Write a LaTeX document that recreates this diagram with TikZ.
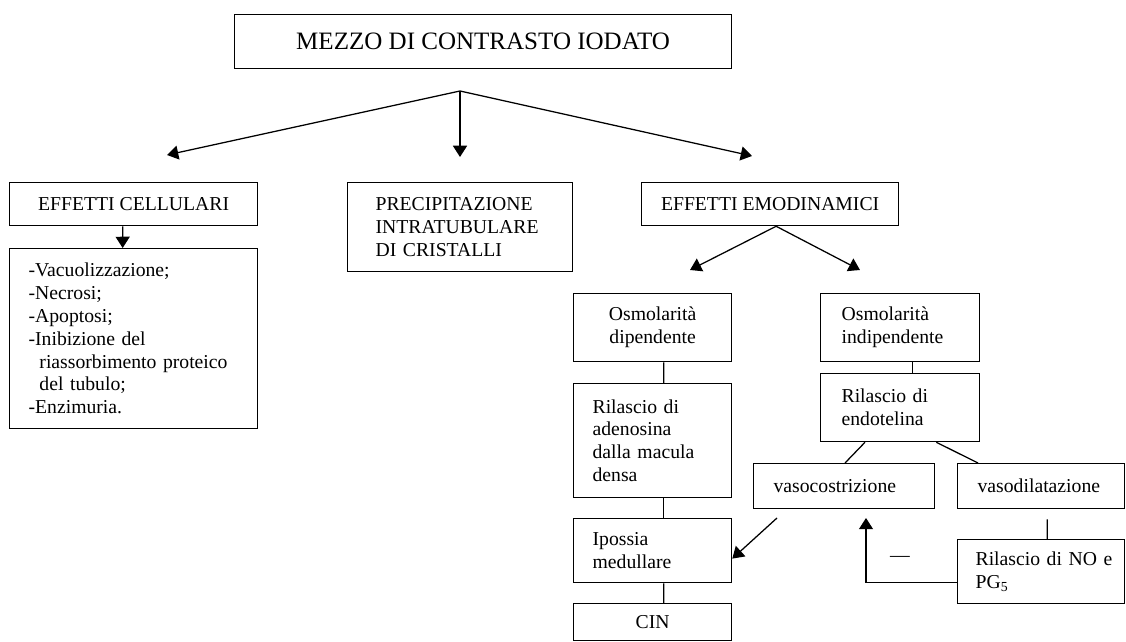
\documentclass[tikz,border=0pt]{standalone}
\usepackage{fontspec}
\setmainfont{Liberation Serif}
\usetikzlibrary{arrows.meta}
\newcommand{\pu}{0.025cm}
\hyphenpenalty=10000

\begin{document}
\begin{tikzpicture}[x=\pu,y=-\pu,line width=0.9pt,
	box/.style={draw,anchor=north west,inner ysep=0pt,font=\fontsize{14}{16.2}\selectfont},
	arr/.style={-{Triangle[length=8pt,width=10pt]}}]
	\useasboundingbox (0,0) rectangle (1126,642);

	% boxes
	\node[box,minimum width=497*\pu,minimum height=54*\pu,font=\fontsize{17.8}{20}\selectfont] (mdc) at (234,14) {MEZZO DI CONTRASTO IODATO};
	\node[box,minimum width=248*\pu,minimum height=43*\pu] (cell) at (9,182) {EFFETTI CELLULARI};
	\node[box,minimum width=248*\pu,minimum height=180*\pu,text width=5.25cm,inner xsep=19*\pu,align=left] (list) at (9,248)
		{-Vacuolizzazione;\\-Necrosi;\\-Apoptosi;\\-Inibizione del\\\hspace*{.55em}riassorbimento proteico\\\hspace*{.55em}del tubulo;\\-Enzimuria.};
	\node[box,minimum width=225*\pu,minimum height=89*\pu,text width=4.225cm,inner xsep=28*\pu,align=left] (prec) at (347,182)
		{PRECIPITAZIONE\\INTRATUBULARE\\DI CRISTALLI};
	\node[box,minimum width=257*\pu,minimum height=43*\pu] (emo) at (641,182) {EFFETTI EMODINAMICI};

	\node[box,minimum width=158*\pu,minimum height=68*\pu,align=center] (dip) at (573,293) {Osmolarità\\dipendente};
	\node[box,minimum width=158*\pu,minimum height=114*\pu,text width=3cm,inner xsep=19*\pu,align=left] (ade) at (573,383)
		{Rilascio di\\adenosina\\dalla macula\\densa};
	\node[box,minimum width=158*\pu,minimum height=64*\pu,text width=3cm,inner xsep=19*\pu,align=left] (ipo) at (573,518) {Ipossia\\medullare};
	\node[box,minimum width=158*\pu,minimum height=37*\pu] (cin) at (573,603) {CIN};

	\node[box,minimum width=159*\pu,minimum height=68*\pu,text width=2.925cm,inner xsep=21*\pu,align=left] (ind) at (820,293) {Osmolarità\\indipendente};
	\node[box,minimum width=159*\pu,minimum height=68*\pu,text width=2.925cm,inner xsep=21*\pu,align=left] (endo) at (820,373) {Rilascio di\\endotelina};
	\node[box,minimum width=181*\pu,minimum height=45*\pu,text width=3.525cm,inner xsep=20*\pu,align=left] (vc) at (753,463) {vasocostrizione};
	\node[box,minimum width=167*\pu,minimum height=45*\pu,text width=3.175cm,inner xsep=20*\pu,align=left] (vd) at (957,463) {vasodilatazione};
	\node[box,minimum width=167*\pu,minimum height=64*\pu,text width=3.275cm,inner xsep=18*\pu,align=left] (no) at (957,539) {\mbox{Rilascio di NO e}\\PG\textsubscript{5}};

	% arrows
	\coordinate (hub) at (460,91);
	\coordinate (tl) at (167,155);
	\coordinate (tc) at (460,157);
	\coordinate (tr) at (752,156);
	\foreach \t in {tl,tc,tr}
		\draw[arr] (hub) -- (\t);
	\draw[arr] ([xshift=-11*\pu]cell.south) -- ([xshift=-11*\pu]list.north);

	\coordinate (eh) at ([xshift=6*\pu]emo.south);
	\coordinate (el) at (690,270);
	\coordinate (er) at (860,270);
	\draw[arr] (eh) -- (el);
	\draw[arr] (eh) -- (er);

	\foreach \a/\b in {dip/ade,ade/ipo,ipo/cin}
		\draw ([xshift=11*\pu]\a.south) -- ([xshift=11*\pu]\b.north);
	\draw ([xshift=12*\pu]ind.south) -- ([xshift=12*\pu]endo.north);
	\draw ([xshift=45*\pu]endo.south west) -- ([xshift=92*\pu]vc.north west);
	\draw ([xshift=-44*\pu]endo.south east) -- ([xshift=21*\pu]vd.north west);
	\draw ([xshift=6*\pu,yshift=-10*\pu]vd.south) -- ([xshift=6*\pu]no.north);

	\coordinate (up) at (866,518);
	\draw[arr] ([yshift=-11*\pu]no.west) -| (up);
	\node[font=\fontsize{14}{16.2}\selectfont] (minus) at (900,559) {\textemdash};

	\coordinate (vs) at (777,518);
	\draw[arr] (vs) -- ([yshift=-8*\pu]ipo.east);
\end{tikzpicture}
\end{document}
